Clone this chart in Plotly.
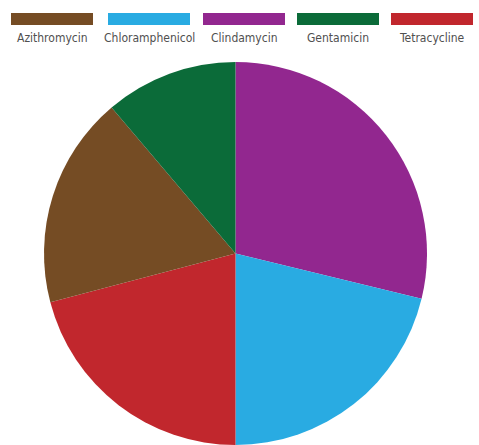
import plotly.graph_objects as go

W, H = 479, 445

# Data (percent shares), in drawing order clockwise from 12 o'clock
labels = ["Clindamycin", "Chloramphenicol", "Tetracycline", "Azithromycin", "Gentamicin"]
values = [28.8, 21.2, 20.9, 17.9, 11.2]
colors = {
    "Azithromycin": "#754C24",
    "Chloramphenicol": "#29ABE2",
    "Clindamycin": "#92278F",
    "Gentamicin": "#0B6B39",
    "Tetracycline": "#C1272D",
}
legend_order = ["Azithromycin", "Chloramphenicol", "Clindamycin", "Gentamicin", "Tetracycline"]
legend_centers_px = [52, 149, 244, 338, 432]

FONT = "DejaVu Sans Condensed, sans-serif"

cx, top = 235.5, 62
r = (H - top) / 2

fig = go.Figure(go.Pie(
    labels=labels,
    values=values,
    sort=False,
    direction="clockwise",
    rotation=0,
    textinfo="none",
    hoverinfo="label+percent",
    marker=dict(colors=[colors[l] for l in labels], line=dict(width=0)),
    domain=dict(x=[(cx - r) / W, (cx + r) / W], y=[0, (H - top) / H]),
    showlegend=False,
))

shapes, annotations = [], []
sw_w, sw_y0, sw_y1 = 82, 13, 25
for name, c in zip(legend_order, legend_centers_px):
    shapes.append(dict(
        type="rect", xref="paper", yref="paper",
        x0=(c - sw_w / 2) / W, x1=(c + sw_w / 2) / W,
        y0=1 - sw_y1 / H, y1=1 - sw_y0 / H,
        fillcolor=colors[name], line=dict(width=0),
    ))
    annotations.append(dict(
        text=name, xref="paper", yref="paper",
        x=c / W, y=1 - 38 / H, xanchor="center", yanchor="middle",
        showarrow=False, font=dict(family=FONT, size=12, color="#505050"),
    ))

fig.update_layout(
    width=W, height=H,
    margin=dict(l=0, r=0, t=0, b=0),
    paper_bgcolor="white", plot_bgcolor="white",
    shapes=shapes, annotations=annotations,
)

fig.write_html("out.html")
